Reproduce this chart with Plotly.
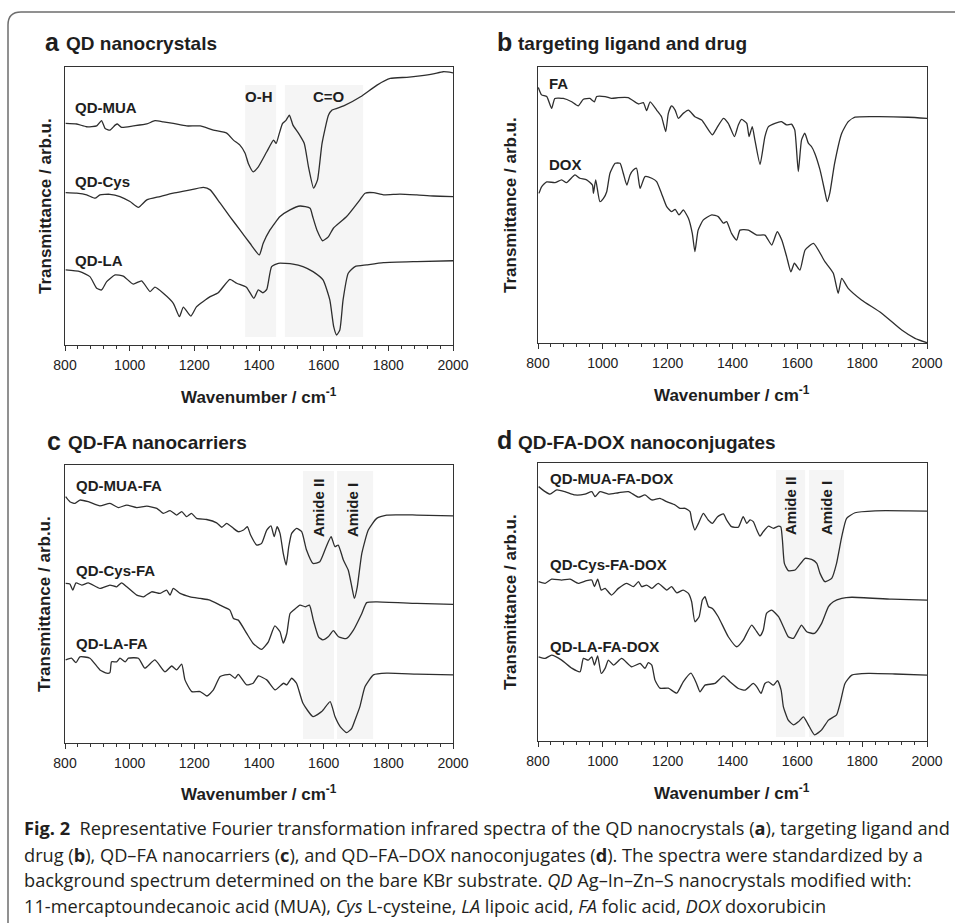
import plotly.graph_objects as go

# ---------------- data (wavenumber / cm-1, transmittance arb.u.) ----------------
# panel a: QD nanocrystals
qd_mua_wn = [802,836,867,898,913,924,939,955,962,975,1011,1053,1078,1104,1135,1176,1218,1259,1300,1321,
             1341,1357,1367,1382,1398,1424,1445,1453,1463,1473,1484,1494,1505,1522,1540,1553,1569,1581,1595,1615,
             1626,1662,1714,1765,1806,1857,1898,1939,1970,2000]
qd_mua_t = [79.7,79.5,78.5,78.8,80.7,77.9,77.3,79.1,79.5,78.3,78.8,79.5,80.7,80.3,79.7,78.8,78.8,77.3,76.2,73.7,
            71.9,69.0,65.3,62.3,64.1,69.5,73.7,72.5,76.2,79.7,80.9,82.7,79.1,76.2,72.5,64.1,56.4,59.4,72.5,82.7,
            84.5,86.0,89.3,93.5,95.9,96.3,96.8,97.5,98.3,97.9]

qd_cys_wn = [802,836,867,893,908,939,970,1001,1027,1053,1094,1135,1176,1228,1249,1280,1310,1341,1372,1401,
             1413,1434,1465,1496,1527,1558,1566,1579,1597,1615,1630,1671,1712,1728,1754,1785,1836,1888,1939,2000]
qd_cys_t = [54.8,54.6,54.0,52.8,54.0,54.2,53.4,51.6,49.5,52.2,53.4,54.6,55.5,56.7,55.8,51.0,46.2,41.4,36.6,32.4,
            36.6,41.4,46.2,48.6,50.0,49.2,46.2,41.4,37.5,39.0,42.0,46.2,52.2,54.6,54.8,54.0,54.3,54.0,53.6,53.4]

qd_la_wn = [802,846,877,898,913,929,955,980,1011,1037,1063,1078,1104,1135,1154,1166,1189,1207,1249,1274,
            1310,1331,1361,1384,1398,1412,1424,1439,1460,1505,1536,1567,1598,1619,1631,1640,1650,1660,1676,1697,
            1733,1785,1888,2000]
qd_la_t = [27.0,26.4,24.6,20.4,19.8,22.8,25.2,24.8,21.9,23.1,19.2,20.8,18.6,15.0,10.2,13.6,10.4,13.8,17.4,18.8,
           23.6,22.2,20.8,16.8,19.8,18.8,20.0,28.2,29.4,29.1,28.2,26.4,23.4,16.2,6.6,3.6,5.4,16.2,25.8,28.2,
           28.8,29.6,30.0,30.3]

# panel b: targeting ligand and drug
fa_wn = [801,811,827,842,852,878,904,924,940,960,974,981,1007,1027,1048,1078,1110,1125,1135,1146,
         1166,1181,1194,1202,1212,1223,1233,1248,1264,1284,1305,1338,1351,1372,1387,1406,1418,1428,1444,1451,
         1461,1469,1485,1500,1511,1531,1551,1567,1582,1592,1603,1613,1623,1634,1644,1654,1670,1685,1692,1700,
         1715,1737,1757,1778,1840,1942,2000]
fa_t = [92.6,89.9,89.3,85.0,88.6,88.6,87.4,85.9,88.3,88.6,87.4,89.3,89.3,88.6,88.9,88.9,86.6,87.1,84.2,87.4,
        84.4,82.0,76.6,83.2,85.9,84.4,81.4,83.2,84.4,82.0,80.8,75.4,77.8,81.4,79.6,74.8,79.0,81.0,79.6,74.8,
        78.4,73.6,64.7,74.8,78.4,79.6,80.2,79.0,79.3,77.2,62.1,73.6,76.0,72.4,71.1,68.7,62.7,54.8,51.2,54.2,
        65.1,76.0,80.2,81.8,82.0,81.8,81.4]

dox_wn = [803,811,827,852,873,888,914,929,950,968,971,978,991,1002,1012,1022,1038,1053,1063,1074,
          1084,1094,1104,1115,1130,1151,1166,1181,1197,1212,1223,1235,1248,1264,1276,1284,1294,1310,1336,1356,
          1372,1382,1397,1413,1423,1449,1475,1500,1521,1538,1552,1567,1580,1591,1608,1624,1650,1685,1711,1726,
          1737,1757,1798,1860,1922,1963,2000]
dox_t = [54.2,56.6,58.4,58.1,59.1,58.1,60.9,59.7,59.1,57.2,54.2,59.1,51.2,52.4,54.8,61.5,65.1,65.1,61.5,57.2,
         60.9,62.7,63.3,56.0,60.3,59.7,58.5,54.2,49.4,47.6,48.4,46.4,48.2,45.2,39.7,33.1,40.9,44.6,46.4,45.8,
         43.4,44.0,39.7,37.3,40.9,40.9,39.1,39.1,35.5,40.3,37.3,31.3,25.8,28.9,26.4,33.7,36.1,29.5,25.3,18.0,
         23.4,19.8,15.6,10.8,4.7,1.7,0.1]

# panel c: QD-FA nanocarriers
qd_mua_fa_wn = [802,815,831,846,872,908,939,965,991,1022,1053,1084,1104,1125,1145,1161,1176,1191,1207,1238,
                1269,1285,1300,1321,1336,1352,1364,1374,1393,1408,1424,1437,1447,1456,1465,1475,1484,1492,1501,1516,
                1532,1547,1567,1588,1608,1623,1635,1645,1661,1676,1687,1695,1704,1718,1738,1764,1795,1888,2000]
qd_mua_fa_t = [88.6,86.8,86.2,87.4,86.8,85.3,86.2,84.7,85.6,84.7,85.2,84.4,82.6,83.6,82.0,83.2,81.4,82.6,80.8,80.4,
               79.2,77.6,79.0,77.2,76.0,76.6,77.8,74.8,71.2,71.8,76.6,78.1,74.2,77.8,75.4,68.2,64.0,70.6,75.4,77.2,
               76.0,69.4,64.6,65.2,70.6,74.2,70.6,71.2,65.8,62.2,56.2,52.0,56.2,68.2,76.6,80.8,82.0,82.0,81.7]

qd_cys_fa_wn = [802,815,824,834,852,872,908,939,960,975,991,1022,1043,1068,1094,1114,1125,1135,1156,1187,
                1218,1248,1279,1310,1321,1336,1362,1382,1408,1429,1449,1465,1475,1486,1496,1507,1527,1543,1556,1568,
                1584,1597,1614,1630,1646,1671,1692,1718,1733,1764,1888,2000]
qd_cys_fa_t = [57.4,57.2,55.0,57.6,56.8,57.6,55.6,56.8,56.2,57.6,56.2,53.2,52.6,54.4,53.8,55.0,53.2,55.6,53.8,52.6,
               52.0,51.4,49.6,47.8,44.8,44.2,39.4,35.8,33.7,36.4,42.1,40.0,35.9,39.4,46.6,47.8,49.6,49.0,49.6,44.2,
               38.2,37.1,38.2,40.4,38.2,37.6,40.6,46.6,50.5,50.8,50.2,49.9]

qd_la_fa_wn = [802,820,834,846,877,908,929,939,944,960,970,986,996,1027,1047,1078,1109,1130,1145,1161,
               1171,1192,1218,1239,1259,1280,1310,1326,1336,1362,1382,1398,1424,1450,1476,1486,1501,1516,1536,1567,
               1594,1620,1635,1651,1671,1687,1697,1712,1728,1754,1795,1888,2000]
qd_la_fa_t = [29.9,30.5,28.9,31.0,30.5,26.3,25.1,25.3,29.2,29.2,30.5,29.2,30.5,30.5,26.9,29.9,25.6,27.7,26.3,28.4,
              22.7,18.5,18.5,16.9,19.1,23.9,24.7,23.3,24.7,20.9,21.5,24.1,22.7,19.1,21.5,20.9,23.3,21.5,14.3,9.5,
              11.3,14.9,9.5,5.9,3.7,5.3,8.3,13.1,20.3,24.5,25.1,24.8,24.5]

# panel d: QD-FA-DOX nanoconjugates
qd_mua_fa_dox_wn = [802,822,837,858,883,914,945,966,976,991,1017,1048,1079,1110,1130,1151,1176,1197,1223,1238,
                    1254,1269,1274,1284,1295,1310,1325,1338,1354,1372,1382,1397,1418,1433,1444,1454,1464,1475,1485,1495,
                    1511,1526,1542,1549,1554,1560,1572,1593,1624,1644,1660,1670,1685,1706,1721,1737,1752,1778,1840,1943,
                    2000]
qd_mua_fa_dox_t = [91.5,89.7,88.8,90.3,89.7,88.5,88.8,89.7,87.9,89.7,88.8,89.3,89.7,87.7,88.5,86.7,87.3,86.1,84.9,83.7,
                   83.7,82.5,79.5,75.9,78.3,81.9,79.5,78.3,80.7,81.7,79.5,77.1,76.9,80.7,78.3,79.5,78.9,75.9,73.7,75.3,
                   77.3,76.5,77.3,77.0,72.3,63.9,61.3,61.5,65.7,65.3,63.9,60.3,57.3,58.5,63.9,73.5,80.1,82.1,82.8,82.8,
                   82.7]

qd_cys_fa_dox_wn = [802,822,842,873,899,924,950,966,974,984,995,1007,1027,1048,1074,1094,1110,1120,1135,1151,
                    1171,1197,1212,1228,1248,1264,1274,1284,1297,1307,1315,1326,1338,1356,1387,1413,1433,1459,1475,1485,
                    1495,1505,1521,1542,1557,1572,1588,1603,1613,1629,1653,1675,1696,1711,1737,1768,1891,2000]
qd_cys_fa_dox_t = [57.3,56.7,58.2,57.9,58.2,56.7,57.7,57.9,55.5,58.2,54.3,54.9,52.5,54.9,56.7,55.5,57.3,55.5,56.1,54.9,
                   56.7,54.3,55.5,53.3,54.3,53.1,50.1,42.9,44.7,50.7,51.9,48.3,47.7,44.7,37.5,33.9,36.3,41.7,39.3,37.8,
                   39.9,45.9,47.1,44.7,41.1,37.5,36.9,39.9,41.7,39.3,38.7,42.3,48.3,50.1,51.3,51.7,51.0,50.7]

qd_la_fa_dox_wn = [802,822,842,873,904,930,940,955,966,974,984,995,1007,1017,1033,1058,1089,1115,1130,1140,
                   1151,1161,1176,1202,1228,1248,1272,1289,1300,1315,1346,1372,1392,1418,1439,1464,1475,1488,1500,1511,
                   1526,1539,1550,1557,1572,1588,1603,1619,1634,1653,1675,1696,1721,1732,1747,1768,1819,1901,2000]
qd_la_fa_dox_t = [30.3,29.7,30.9,29.1,26.2,24.9,29.7,29.1,30.3,27.3,30.6,24.3,26.1,29.1,27.3,29.7,26.7,27.9,26.1,28.2,
                  27.3,21.9,19.0,19.0,17.2,21.3,24.4,20.7,17.7,20.1,20.7,23.4,21.3,18.9,18.3,20.7,19.5,17.1,20.7,21.3,
                  20.1,21.7,18.3,12.3,7.5,5.8,6.9,8.7,5.8,2.2,4.0,7.5,9.4,13.6,20.7,23.7,24.3,24.1,23.7]

tick_values = [800, 1000, 1200, 1400, 1600, 1800, 2000]
tick_labels = ["800", "1000", "1200", "1400", "1600", "1800", "2000"]

panel_letters = ["a", "b", "c", "d"]
panel_titles = ["QD nanocrystals", "targeting ligand and drug", "QD-FA nanocarriers", "QD-FA-DOX nanoconjugates"]

# shaded bands (wavenumber ranges)
bands_a = [(1357, 1453), (1480, 1722)]
bands_c = [(1536, 1632), (1641, 1753)]
bands_d = [(1534, 1624), (1636, 1744)]

# ---------------- layout helpers ----------------
W, H = 955, 923
ARIAL = "Arial, Liberation Sans, sans-serif"
INK = "#1e1e1e"
LINE = "#333333"


def fx(p):
    return p / W


def fy(p):
    return 1 - p / H


# pixel boxes of the four plot areas (left, right, top, bottom)
boxes = [(65, 453, 67, 345), (538, 927, 67, 343), (65, 453, 465, 743), (538, 927, 463, 741)]

fig = go.Figure()

series = [
    (1, qd_mua_wn, qd_mua_t), (1, qd_cys_wn, qd_cys_t), (1, qd_la_wn, qd_la_t),
    (2, fa_wn, fa_t), (2, dox_wn, dox_t),
    (3, qd_mua_fa_wn, qd_mua_fa_t), (3, qd_cys_fa_wn, qd_cys_fa_t), (3, qd_la_fa_wn, qd_la_fa_t),
    (4, qd_mua_fa_dox_wn, qd_mua_fa_dox_t), (4, qd_cys_fa_dox_wn, qd_cys_fa_dox_t), (4, qd_la_fa_dox_wn, qd_la_fa_dox_t),
]
for k, xs, ys in series:
    suf = "" if k == 1 else str(k)
    fig.add_trace(go.Scatter(x=xs, y=ys, xaxis="x" + suf, yaxis="y" + suf, mode="lines",
                             line=dict(color="#2e2e2e", width=1.3, shape="spline", smoothing=0.5),
                             showlegend=False, hoverinfo="skip"))

layout = dict(width=W, height=H, margin=dict(l=0, r=0, t=0, b=0, autoexpand=False),
              paper_bgcolor="white", plot_bgcolor="white", showlegend=False)

for i, (l, r, t, b) in enumerate(boxes):
    suf = "" if i == 0 else str(i + 1)
    layout["xaxis" + suf] = dict(
        domain=[fx(l), fx(r)], range=[800, 2000], anchor="y" + suf, automargin=False,
        tickmode="array", tickvals=tick_values, ticktext=tick_labels,
        ticks="outside", ticklen=5, tickwidth=1, tickcolor=LINE, ticklabelstandoff=2,
        minor=dict(tick0=800, dtick=40, ticks="outside", ticklen=3, tickwidth=1, tickcolor=LINE, showgrid=False),
        showline=True, linecolor=LINE, linewidth=1.3, mirror=True,
        showgrid=False, zeroline=False, tickfont=dict(family=ARIAL, size=14, color="#222"),
        fixedrange=True)
    layout["yaxis" + suf] = dict(
        domain=[fy(b), fy(t)], range=[0, 100], anchor="x" + suf, automargin=False,
        showticklabels=False, ticks="", showline=True, linecolor=LINE, linewidth=1.3, mirror=True,
        showgrid=False, zeroline=False, fixedrange=True)

shapes = []
# outer frame with rounded top-left corner
shapes.append(dict(type="path", xref="paper", yref="paper",
                   path=f"M {fx(8)},{fy(940)} L {fx(8)},{fy(25)} Q {fx(8)},{fy(12)} {fx(21)},{fy(12)} L {fx(970)},{fy(12)}",
                   line=dict(color="#6e6e6e", width=1.5)))
band_color = "#f5f5f5"
for (x0, x1) in bands_a:
    shapes.append(dict(type="rect", xref="x", yref="y", x0=x0, x1=x1, y0=2.9, y1=93.5,
                       fillcolor=band_color, line=dict(width=0), layer="below"))
for (x0, x1) in bands_c:
    shapes.append(dict(type="rect", xref="x3", yref="y3", x0=x0, x1=x1, y0=1.4, y1=97.8,
                       fillcolor=band_color, line=dict(width=0), layer="below"))
for (x0, x1) in bands_d:
    shapes.append(dict(type="rect", xref="x4", yref="y4", x0=x0, x1=x1, y0=1.4, y1=97.5,
                       fillcolor=band_color, line=dict(width=0), layer="below"))
layout["shapes"] = shapes

anns = []


def ann(text, x, y, size, xanchor="left", yanchor="middle", angle=0, family=ARIAL, color=INK):
    anns.append(dict(text=text, x=fx(x), y=fy(y), xref="paper", yref="paper", showarrow=False,
                     xanchor=xanchor, yanchor=yanchor, textangle=angle,
                     font=dict(family=family, size=size, color=color)))


# panel titles
title_pos = [(43, 64, 43), (495, 516, 43), (45, 66, 442), (495, 516, 441)]
for (lx, tx, ty), letter, title in zip(title_pos, panel_letters, panel_titles):
    ann(f"<b>{letter}</b>", lx, ty - 1, 25)
    ann(f"<b>{title}</b>", tx, ty + 1, 19)

# axis titles
xt_pos = [(259, 396), (732, 394), (259, 793), (732, 792)]
for (x, y) in xt_pos:
    ann("<b>Wavenumber / cm<sup>-1</sup></b>", x, y, 17, xanchor="center")
yt_pos = [(45, 206), (510, 205), (44, 604), (510, 602)]
for (x, y) in yt_pos:
    ann("<b>Transmittance / arb.u.</b>", x, y, 17, xanchor="center", angle=-90)

# curve labels
curve_labels = [("QD-MUA", 73, 108), ("QD-Cys", 73, 182), ("QD-LA", 73, 260),
                ("FA", 547, 83), ("DOX", 547, 164),
                ("QD-MUA-FA", 74, 485), ("QD-Cys-FA", 74, 570), ("QD-LA-FA", 74, 643),
                ("QD-MUA-FA-DOX", 548, 479), ("QD-Cys-FA-DOX", 548, 564), ("QD-LA-FA-DOX", 548, 646)]
for text, x, y in curve_labels:
    ann(f"<b>{text}</b>", x, y, 15)

# band labels
ann("<b>O-H</b>", 259, 96, 15, xanchor="center")
ann("<b>C=O</b>", 329, 96, 15, xanchor="center")
ann("<b>Amide II</b>", 318, 508, 15, xanchor="center", angle=-90)
ann("<b>Amide I</b>", 353, 510, 15, xanchor="center", angle=-90)
ann("<b>Amide II</b>", 790, 506, 15, xanchor="center", angle=-90)
ann("<b>Amide I</b>", 826, 508, 15, xanchor="center", angle=-90)

# caption
CAP = "Open Sans, Noto Sans, sans-serif"
caption_lines = [
    "<b>Fig. 2</b>\u00a0\u00a0Representative Fourier transformation infrared spectra of the QD nanocrystals (<b>a</b>), targeting ligand and",
    "drug (<b>b</b>), QD–FA nanocarriers (<b>c</b>), and QD–FA–DOX nanoconjugates (<b>d</b>). The spectra were standardized by a",
    "background spectrum determined on the bare KBr substrate. <i>QD</i> Ag–In–Zn–S nanocrystals modified with:",
    "11-mercaptoundecanoic acid (MUA), <i>Cys</i> L-cysteine, <i>LA</i> lipoic acid, <i>FA</i> folic acid, <i>DOX</i> doxorubicin",
]
for line, y in zip(caption_lines, [828, 855, 880, 906]):
    ann(line, 22, y, 18.2, family=CAP, color="#231f20")

layout["annotations"] = anns
fig.update_layout(**layout)
fig.write_html("out.html", config={"displayModeBar": False, "staticPlot": True},
               post_script="document.body.style.margin='0px';document.body.style.overflow='hidden';")
